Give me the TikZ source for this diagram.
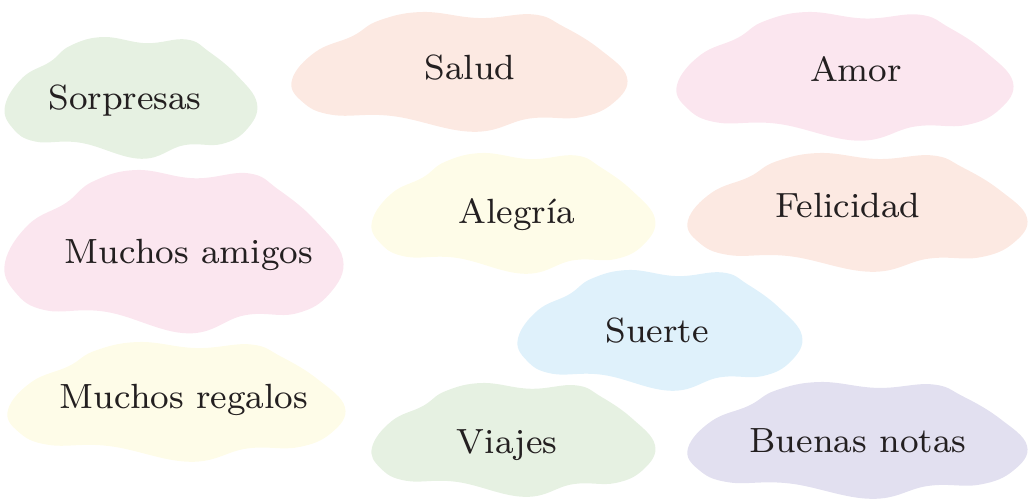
\documentclass[tikz,border=0pt]{standalone}
\usepackage{fontspec}
\usepackage{xcolor}
\usepackage{tikz}

\newfontfamily\nubefont{lmroman8-regular.otf}

\definecolor{verde}{HTML}{E6F1E2}
\definecolor{durazno}{HTML}{FCE9E2}
\definecolor{rosa}{HTML}{FBE6EF}
\definecolor{amarillo}{HTML}{FEFCE8}
\definecolor{celeste}{HTML}{DFF1FB}
\definecolor{lila}{HTML}{E2E0F0}
\definecolor{tinta}{HTML}{231F20}

% nube: x, y (esquina superior izquierda), ancho, alto, color
\newcommand{\nube}[5]{%
  \begin{scope}[shift={(#1,#2)}, xscale=#3, yscale=#4]
    \fill[#5] plot[smooth cycle, tension=0.7] coordinates {
      (0,0.56) (0.03,0.74) (0.12,0.85) (0.3,0.86) (0.54,0.99)
      (0.71,0.88) (0.86,0.87) (0.96,0.75) (1,0.54) (0.92,0.31)
      (0.81,0.12) (0.72,0.02) (0.56,0.05) (0.39,0) (0.26,0.07)
      (0.18,0.2) (0.07,0.33)};
  \end{scope}}

\tikzset{texto/.style={anchor=base, inner sep=0pt, text=tinta,
  font=\nubefont\fontsize{35}{40}\selectfont}}

\begin{document}
\begin{tikzpicture}[x=1pt, y=-1pt]
    \useasboundingbox (0,0) rectangle (1028,500);
    % nubes
    \nube{5}{37}{252}{123}{verde}
    \nube{292}{12}{335}{121}{durazno}
    \nube{677}{12}{336}{130}{rosa}
    \nube{5}{170}{338}{165}{rosa}
    \nube{372}{153}{283}{122}{amarillo}
    \nube{688}{153}{339}{120}{durazno}
    \nube{518}{270}{284}{122}{celeste}
    \nube{8}{342}{337}{121}{amarillo}
    \nube{372}{383}{283}{115}{verde}
    \nube{688}{382}{339}{118}{lila}
    % textos
    \node[texto] (sorpresas) at (125,110) {Sorpresas};
    \node[texto] (salud) at (470,80) {Salud};
    \node[texto] (amor) at (856,82) {Amor};
    \node[texto] (amigos) at (189,263) {Muchos amigos};
    \node[texto] (alegria) at (517,223) {Alegría};
    \node[texto] (felicidad) at (848,217) {Felicidad};
    \node[texto] (suerte) at (657,342) {Suerte};
    \node[texto] (regalos) at (184,408) {Muchos regalos};
    \node[texto] (viajes) at (507,453) {Viajes};
    \node[texto] (notas) at (858,452) {Buenas notas};
\end{tikzpicture}
\end{document}
